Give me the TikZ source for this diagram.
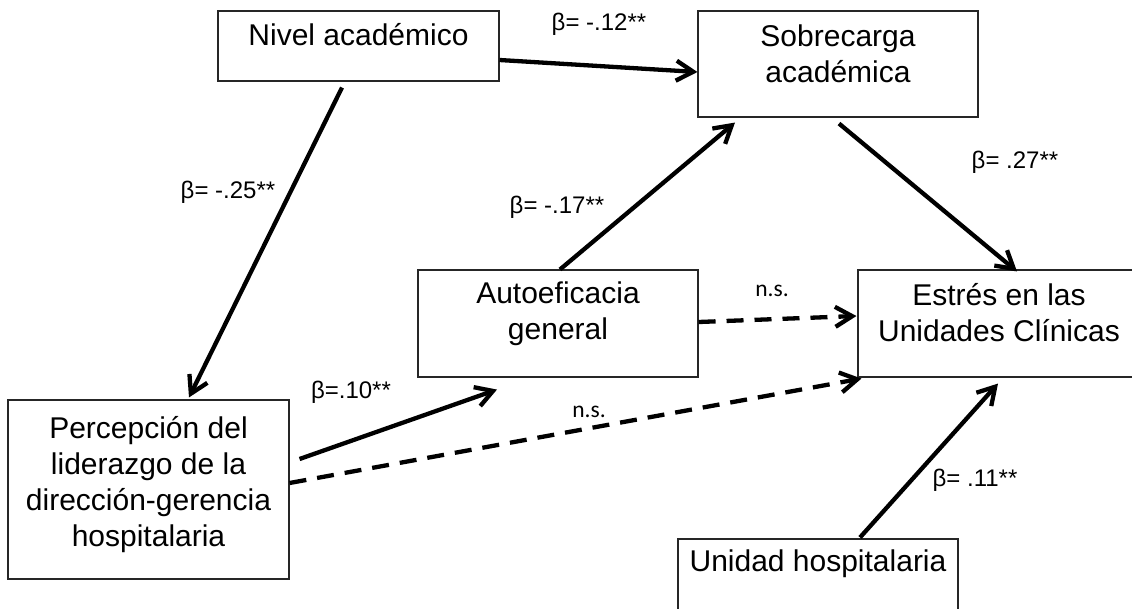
\documentclass[tikz,border=0pt]{standalone}
\usepackage{fontspec}
\setmainfont{Liberation Sans}
\newfontfamily\calib{Carlito}
\usetikzlibrary{arrows.meta,calc}
\begin{document}
\begin{tikzpicture}[x=1pt,y=-1pt,
  box/.style={draw=black!85, line width=1.1pt, inner sep=0pt},
  boxtext/.style={align=center, inner sep=0pt, font=\fontsize{30pt}{36pt}\selectfont},
  coef/.style={inner sep=0pt, font=\fontsize{24pt}{28pt}\selectfont},
  coefc/.style={inner sep=0pt, font=\calib\fontsize{23.5pt}{28pt}\selectfont},
  link/.style={line width=4.3pt, -{Straight Barb[length=17pt,width=20pt]}},
  nslink/.style={link, dash pattern=on 17pt off 11pt}]
\clip (0,0) rectangle (1132,608);
\fill[white] (0,0) rectangle (1132,608);

% boxes
\node[box, minimum width=281pt, minimum height=70pt]  (niv) at (358.5,46) {};
\node[box, minimum width=280pt, minimum height=106pt] (sob) at (838,64) {};
\node[box, minimum width=280pt, minimum height=107pt] (aut) at (558,323.5) {};
\node[box, minimum width=282pt, minimum height=107pt] (est) at (999,323.5) {};
\node[box, minimum width=281pt, minimum height=179pt] (per) at (148.5,489.5) {};
\node[box, minimum width=280pt, minimum height=80pt]  (uni) at (818,579) {};

% box texts
\node[boxtext] (nivt) at (358.5,35) {Nivel académico};
\node[boxtext] (sobt) at (838,53.5) {Sobrecarga\\académica};
\node[boxtext] (autt) at (558,314) {Autoeficacia\\general};
\node[boxtext] (estt) at (999,313) {Estrés en las\\Unidades Clínicas};
\node[boxtext] (pert) at (148.5,485) {Percepción del\\liderazgo de la\\dirección-gerencia\\hospitalaria};
\node[boxtext] (unit) at (818,564) {Unidad hospitalaria};

% paths
\draw[link] ($(niv.east)+(0,14)$) -- ($(sob.west)+(0,8)$);
\draw[link] ($(niv.south)+(-16.5,6)$) -- ($(per.north)+(40.5,-2)$);
\draw[link] ($(per.east)+(10,-30.5)$) -- ($(aut.south)+(-61,12)$);
\draw[nslink] ($(per.east)+(0,-6.5)$) -- ($(est.south west)+(4,1)$);
\draw[nslink] ($(aut.east)+(0,-1.5)$) -- ($(est.west)+(-1,-7.5)$);
\draw[link] ($(aut.north)+(2,0)$) -- ($(sob.south)+(-103,5)$);
\draw[link] ($(sob.south)+(1,6)$) -- ($(est.north)+(18,2)$);
\draw[link] ($(uni.north)+(42,-1)$) -- ($(est.south)+(-1,6)$);

% coefficients
\node[coef]  (c1) at (599,24)   {β= -.12**};
\node[coef]  (c2) at (228,192)  {β= -.25**};
\node[coef]  (c3) at (557,207)  {β= -.17**};
\node[coef]  (c4) at (1015,162) {β= .27**};
\node[coef]  (c5) at (351,392)  {β=.10**};
\node[coefc] (c6) at (772,291)  {n.s.};
\node[coefc] (c7) at (589,412)  {n.s.};
\node[coef]  (c8) at (975,480)  {β= .11**};
\end{tikzpicture}
\end{document}
